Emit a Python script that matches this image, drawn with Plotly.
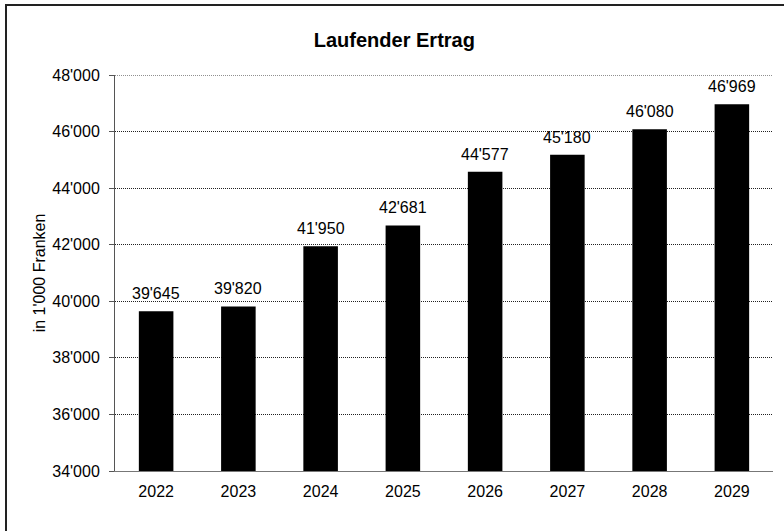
import plotly.graph_objects as go

years = ['2022', '2023', '2024', '2025', '2026', '2027', '2028', '2029']
ertrag = [39645, 39820, 41950, 42681, 44577, 45180, 46080, 46969]
y_min, y_max = 34000, 48000

W, H = 784, 531
L, R, T, B = 115, 773, 75, 471  # plot area edges in pixels

fig = go.Figure()
fig.add_trace(go.Bar(
    x=years,
    y=ertrag,
    marker=dict(color='black', line=dict(width=0)),
    width=0.42,
    hoverinfo='x+y',
))

# value labels above the bars, Swiss thousands separator
for i, v in enumerate(ertrag):
    fig.add_annotation(x=i, y=v, text=f"{v:,}".replace(',', "'"),
                       showarrow=False, yanchor='bottom', yshift=7,
                       font=dict(size=16, color='black'))

fig.update_layout(
    width=W,
    height=H,
    paper_bgcolor='white',
    plot_bgcolor='white',
    separators=".'",
    font=dict(family='Liberation Sans, Arial', size=16, color='black'),
    title=dict(text='<b>Laufender Ertrag</b>', x=0.503, xanchor='center',
               y=1 - 40 / H, yanchor='middle', font=dict(size=20)),
    margin=dict(l=L, r=W - R, t=T, b=H - B),
    showlegend=False,
)
fig.update_yaxes(
    range=[y_min, y_max],
    dtick=2000,
    tickformat=',d',
    showgrid=True,
    gridcolor='#222222',
    griddash='1px,1px',
    gridwidth=1,
    showline=True,
    linecolor='#555555',
    linewidth=1,
    ticks='outside',
    ticklen=5,
    tickcolor='#555555',
    ticklabelstandoff=6,
    title=dict(text="in 1'000 Franken", standoff=2, font=dict(size=16)),
)
fig.update_xaxes(
    type='category',
    showline=True,
    linecolor='#777777',
    linewidth=1,
    ticks='',
    tickfont=dict(size=16),
    ticklabelstandoff=6,
)
# top gridline (plotly drops the one on the range edge)
fig.add_shape(type='line', xref='paper', yref='y', x0=0, x1=1,
              y0=y_max, y1=y_max,
              line=dict(color='#222222', width=1, dash='1px,1px'))
# outer frame
fig.add_shape(type='rect', xref='paper', yref='paper',
              x0=(6 - L) / (R - L), x1=(800 - L) / (R - L),
              y0=-(560 - B) / (B - T), y1=(B - 5) / (B - T),
              line=dict(color='#222222', width=2), fillcolor='rgba(0,0,0,0)',
              layer='below')

fig.write_html("out.html", config={'displayModeBar': False},
               post_script="document.body.style.margin='0';")
